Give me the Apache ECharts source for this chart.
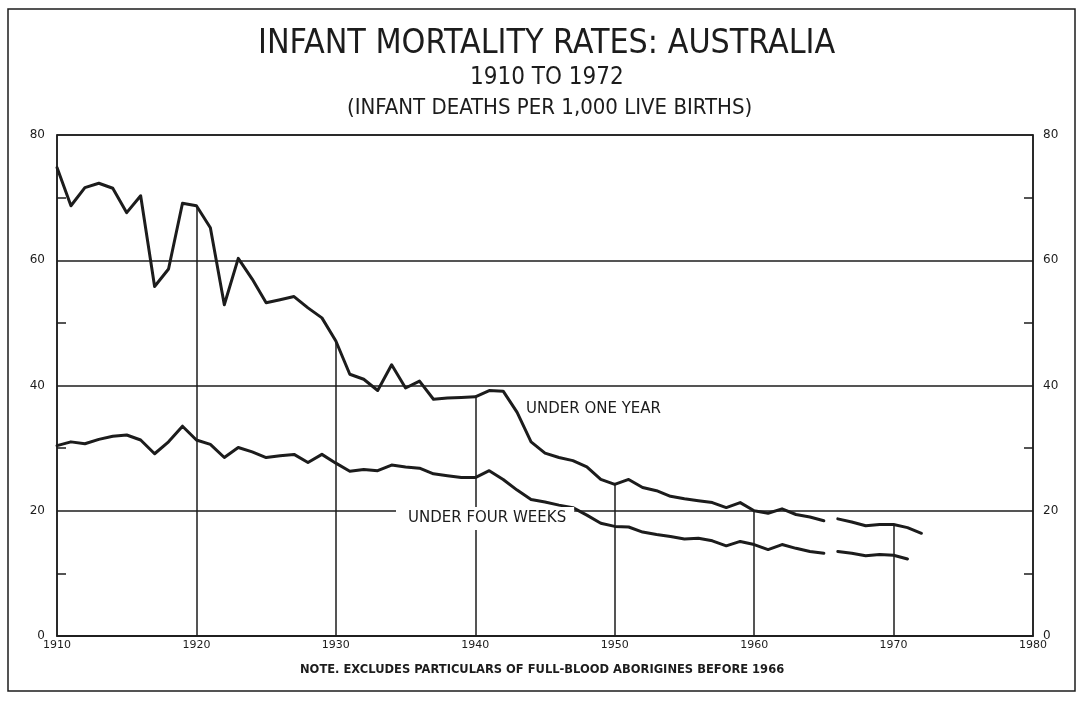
<!DOCTYPE html>
<html>
<head>
<meta charset="utf-8">
<script src="https://cdn.jsdelivr.net/npm/echarts@6/dist/echarts.min.js"></script>
<style>
    html, body { margin: 0; padding: 0; background: #fff; }
    #chart { width: 1081px; height: 702px; }
</style>
</head>
<body>
<div id="chart"></div>
<script>
// years 1910..1972 (under one year), 1910..1971 (under four weeks)
const startYear = 1910
const gapAfter = 1965 // lines are broken between 1965 and 1966

const underOneYear = [
    74.8, 68.7, 71.6, 72.3, 71.5, 67.6, 70.3, 55.8, 58.6, 69.1,
    68.7, 65.2, 52.9, 60.3, 57.0, 53.2, 53.7, 54.2, 52.4, 50.8,
    47.1, 41.8, 41.0, 39.2, 43.3, 39.6, 40.7, 37.8, 38.0, 38.1,
    38.2, 39.2, 39.1, 35.7, 31.0, 29.2, 28.5, 28.0, 27.0, 25.0,
    24.2, 25.0, 23.7, 23.2, 22.3, 21.9, 21.6, 21.3, 20.5, 21.3,
    20.0, 19.6, 20.3, 19.4, 19.0, 18.4, 18.7, 18.2, 17.6, 17.8,
    17.8, 17.3, 16.4
]

const underFourWeeks = [
    30.4, 31.0, 30.7, 31.4, 31.9, 32.1, 31.3, 29.1, 31.0, 33.5,
    31.3, 30.6, 28.5, 30.1, 29.4, 28.5, 28.8, 29.0, 27.7, 29.0,
    27.6, 26.3, 26.6, 26.4, 27.3, 27.0, 26.8, 25.9, 25.6, 25.3,
    25.3, 26.4, 25.0, 23.3, 21.8, 21.4, 20.9, 20.5, 19.3, 18.0,
    17.5, 17.4, 16.6, 16.2, 15.9, 15.5, 15.6, 15.2, 14.4, 15.1,
    14.6, 13.8, 14.6, 14.0, 13.5, 13.2, 13.5, 13.2, 12.8, 13.0,
    12.9, 12.3
]

// decade lines drawn from 0 up to the under-one-year curve
const decadeLines = [1920, 1930, 1940, 1950, 1960, 1970]

const yTickLabels = ['0', '20', '40', '60', '80']

const ink = '#1c1c1c'
const titleFont = 'Liberation Sans Narrow, DejaVu Sans Condensed, sans-serif'

const toPoints = (values) => values.map((v, i) => [startYear + i, v])
const before = (pts) => pts.filter(p => p[0] <= gapAfter)
const after = (pts) => pts.filter(p => p[0] > gapAfter)

const onePts = toPoints(underOneYear)
const fourPts = toPoints(underFourWeeks)

const lineSeries = (data) => ({
    type: 'line',
    data: data,
    showSymbol: false,
    symbol: 'none',
    smooth: false,
    lineStyle: { color: ink, width: 3, join: 'round', cap: 'round' },
    z: 5,
    silent: true,
})

const yAxisBase = (position) => ({
    type: 'value',
    position: position,
    min: 0,
    max: 80,
    interval: 20,
    axisLine: { show: true, lineStyle: { color: ink, width: 1.5 } },
    axisTick: { show: false, inside: true },
    minorTick: { show: true, splitNumber: 2, length: 9, lineStyle: { color: ink, width: 1.5 } },
    splitLine: { show: position === 'left', lineStyle: { color: ink, width: 1.5 } },
    axisLabel: {
        color: ink,
        fontFamily: 'DejaVu Sans',
        fontSize: 12,
        margin: position === 'left' ? 12 : 10,
        formatter: (v) => yTickLabels[v / 20] || '',
    },
})

const chart = echarts.init(document.getElementById('chart'))

chart.setOption({
    backgroundColor: '#fff',
    animation: false,
    title: [
        {
            text: 'INFANT MORTALITY RATES: AUSTRALIA',
            left: 253,
            top: 22,
            textStyle: { fontFamily: titleFont, fontWeight: 'normal', fontSize: 33.7, color: ink },
        },
        {
            text: '1910 TO 1972',
            left: 465,
            top: 61,
            textStyle: { fontFamily: titleFont, fontWeight: 'normal', fontSize: 24, color: ink },
        },
        {
            text: '(INFANT DEATHS PER 1,000 LIVE BIRTHS)',
            left: 342,
            top: 92,
            textStyle: { fontFamily: titleFont, fontWeight: 'normal', fontSize: 22, color: ink },
        },
    ],
    grid: {
        left: 57,
        right: 48,
        top: 135,
        bottom: 66,
        show: true,
        borderColor: ink,
        borderWidth: 1.5,
    },
    xAxis: {
        type: 'value',
        min: 1910,
        max: 1980,
        interval: 10,
        axisLine: { show: true, lineStyle: { color: ink, width: 1.5 } },
        axisTick: { show: false },
        splitLine: { show: false },
        axisLabel: {
            color: ink,
            fontFamily: 'DejaVu Sans',
            fontSize: 11,
            margin: 4,
            showMinLabel: true,
            showMaxLabel: true,
            formatter: (v) => String(v),
        },
    },
    yAxis: [yAxisBase('left'), yAxisBase('right')],
    series: [
        Object.assign(lineSeries(before(onePts)), {
            markLine: {
                silent: true,
                symbol: 'none',
                label: { show: false },
                lineStyle: { color: ink, width: 1.5, type: 'solid' },
                data: decadeLines.map(yr => [
                    { coord: [yr, 0] },
                    { coord: [yr, underOneYear[yr - startYear]] },
                ]),
            },
        }),
        lineSeries(after(onePts)),
        lineSeries(before(fourPts)),
        lineSeries(after(fourPts)),
    ],
    graphic: [
        {
            type: 'rect',
            z: 0,
            silent: true,
            shape: { x: 8, y: 9, width: 1067, height: 682 },
            style: { fill: 'none', stroke: ink, lineWidth: 1.5 },
        },
        {
            type: 'text',
            z: 100,
            left: 526,
            top: 402,
            style: { text: 'UNDER ONE YEAR', fill: ink, font: '15px "DejaVu Sans"' },
        },
        {
            type: 'text',
            z: 100,
            left: 396,
            top: 507,
            style: {
                text: 'UNDER FOUR WEEKS',
                fill: ink,
                font: '15px "DejaVu Sans"',
                backgroundColor: '#fff',
                padding: [4, 8, 4, 12],
            },
        },
        {
            type: 'text',
            z: 100,
            left: 300,
            top: 664,
            style: {
                text: 'NOTE. EXCLUDES PARTICULARS OF FULL-BLOOD ABORIGINES BEFORE 1966',
                fill: ink,
                font: 'bold 11.5px "DejaVu Sans"',
            },
        },
    ],
})
</script>
</body>
</html>
